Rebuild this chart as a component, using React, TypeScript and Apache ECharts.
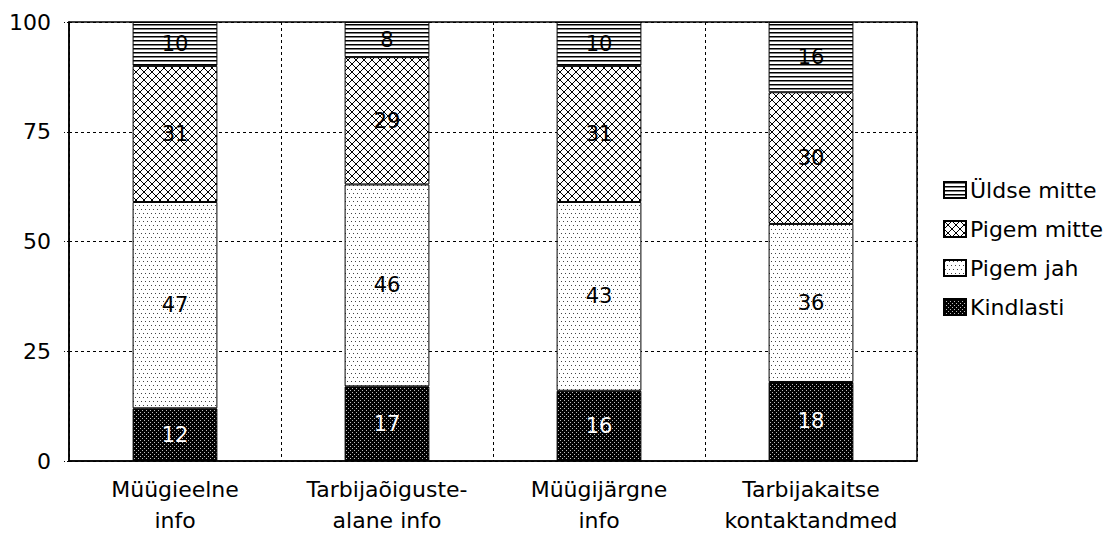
import React, { useEffect, useRef } from "react";
import * as echarts from "echarts";

const categories = ["Müügieelne\ninfo", "Tarbijaõiguste-\nalane info", "Müügijärgne\ninfo", "Tarbijakaitse\nkontaktandmed"];
const kindlasti = [12, 17, 16, 18];
const pigemJah = [47, 46, 43, 36];
const pigemMitte = [31, 29, 31, 30];
const uldseMitte = [10, 8, 10, 16];
const legendOrder = ["Üldse mitte", "Pigem mitte", "Pigem jah", "Kindlasti"];

function makePattern(kind: string) {
  const size = kind === "cross" ? 8 : kind === "hlines" ? 4 : kind === "dots" ? 8 : 4;
  const c = document.createElement("canvas");
  c.width = size;
  c.height = size;
  const ctx = c.getContext("2d")!;
  if (kind === "dark") {
    ctx.fillStyle = "#000";
    ctx.fillRect(0, 0, size, size);
    ctx.fillStyle = "#bbb";
    ctx.fillRect(0, 0, 1, 1);
    ctx.fillRect(2, 2, 1, 1);
  } else {
    ctx.fillStyle = "#fff";
    ctx.fillRect(0, 0, size, size);
    ctx.fillStyle = "#000";
    ctx.strokeStyle = "#000";
    if (kind === "hlines") {
      ctx.fillRect(0, 0, size, 1.5);
    } else if (kind === "dots") {
      ctx.fillStyle = "#444";
      ctx.fillRect(1, 1, 1, 1);
      ctx.fillRect(5, 1, 1, 1);
      ctx.fillRect(3, 5, 1, 1);
      ctx.fillRect(7, 5, 1, 1);
    } else if (kind === "cross") {
      ctx.lineWidth = 1;
      ctx.beginPath();
      ctx.moveTo(0, 0);
      ctx.lineTo(size, size);
      ctx.moveTo(size, 0);
      ctx.lineTo(0, size);
      ctx.stroke();
    }
  }
  return { image: c.toDataURL(), repeat: "repeat", imageWidth: size, imageHeight: size } as any;
}

export default function App() {
  const ref = useRef<HTMLDivElement>(null);
  useEffect(() => {
    document.body.style.margin = "0";
    const chart = echarts.init(ref.current!, undefined, { renderer: "svg" });
    const font = "'DejaVu Sans', sans-serif";
    const mk = (name: string, data: number[], kind: string, labelColor: string) => ({
      name,
      type: "bar",
      stack: "s",
      data,
      barWidth: "40%",
      itemStyle: { color: makePattern(kind), borderColor: "#000", borderWidth: 1 },
      label: { show: true, position: "inside", color: labelColor, fontSize: 21, fontFamily: font },
    });
    chart.setOption({
      animation: false,
      textStyle: { fontFamily: font },
      grid: { left: 69, top: 22, right: 189, bottom: 73, show: true, borderColor: "#000", borderWidth: 1.5 },
      legend: {
        orient: "vertical",
        left: 938,
        top: 174,
        data: legendOrder,
        icon: "rect",
        itemWidth: 22,
        itemHeight: 16,
        itemGap: 17,
        textStyle: { fontSize: 22, color: "#000", fontFamily: font, padding: [0, 0, 0, -1] },
      },
      xAxis: {
        type: "category",
        data: categories,
        axisLine: { lineStyle: { color: "#000", width: 1.5 } },
        axisTick: { show: false },
        axisLabel: { color: "#000", fontSize: 22, lineHeight: 31, margin: 13, fontFamily: font, interval: 0 },
        splitLine: { show: true, lineStyle: { color: "#000", type: [3, 3], width: 1 } },
      },
      yAxis: {
        type: "value",
        min: 0,
        max: 100,
        interval: 25,
        axisLine: { show: true, lineStyle: { color: "#000", width: 1.5 } },
        axisTick: { show: true, length: 5, lineStyle: { color: "#000", type: [2, 2] } },
        axisLabel: { color: "#000", fontSize: 22, margin: 18, fontFamily: font },
        splitLine: { show: true, lineStyle: { color: "#000", type: [3, 3], width: 1 } },
      },
      series: [
        mk("Kindlasti", kindlasti, "dark", "#fff"),
        mk("Pigem jah", pigemJah, "dots", "#000"),
        mk("Pigem mitte", pigemMitte, "cross", "#000"),
        mk("Üldse mitte", uldseMitte, "hlines", "#000"),
      ],
    });
    return () => chart.dispose();
  }, []);
  return <div ref={ref} style={{ width: 1106, height: 536 }} />;
}
